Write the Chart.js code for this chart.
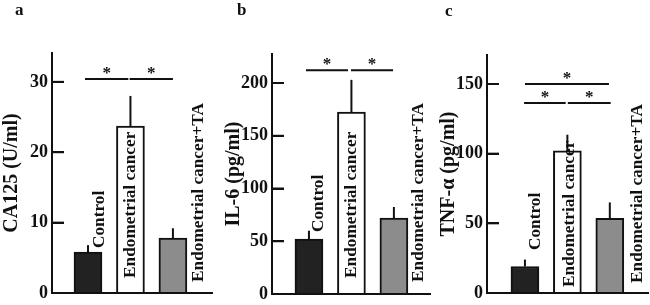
<!DOCTYPE html>
<html>
<head>
<meta charset="utf-8">
<script src="https://cdn.jsdelivr.net/npm/chart.js@4.4.1/dist/chart.umd.min.js"></script>
<style>
  html, body { margin: 0; padding: 0; background: #fff; }
  #wrap { position: relative; width: 650px; height: 305px; overflow: hidden; }
  canvas { position: absolute; top: 0; }
</style>
</head>
<body>
<div id="wrap">
  <canvas id="chartA" width="215" height="305" style="left:0px"></canvas>
  <canvas id="chartB" width="220" height="305" style="left:215px"></canvas>
  <canvas id="chartC" width="214" height="305" style="left:436px"></canvas>
</div>
<script>
// Datos
const categories = ['Control', 'Endometrial cancer', 'Endometrial cancer+TA'];

const ca125Means = [5.8, 23.7, 7.8];
const ca125Errors = [1.0, 4.3, 1.4];
const ca125Ticks = [0, 10, 20, 30];
const ca125Sig = [[0.93, 1.95, 30.4], [1.98, 3.0, 30.4]];

const il6Means = [52, 172.5, 72];
const il6Errors = [8, 30.5, 10.5];
const il6Ticks = [0, 50, 100, 150, 200];
const il6Sig = [[0.93, 1.92, 212], [1.99, 2.98, 212]];

const tnfMeans = [19, 102, 53.6];
const tnfErrors = [5, 11.6, 11.4];
const tnfTicks = [0, 50, 100, 150];
const tnfSig = [[1.0, 2.98, 150], [0.98, 1.96, 136.4], [2.01, 3.02, 136.4]];

const barFills = ['#222222', '#ffffff', '#8c8c8c'];
const FONT = "'Liberation Serif', 'Times New Roman', serif";

Chart.defaults.font.family = FONT;
Chart.defaults.font.weight = 'bold';
Chart.defaults.color = '#111';

// Barras de error, llaves de significancia, etiquetas giradas y letra del panel
const panelExtras = {
    id: 'panelExtras',
    afterDatasetsDraw(chart, args, opts) {
        const ctx = chart.ctx;
        const x = chart.scales.x;
        const y = chart.scales.y;
        const meta = chart.getDatasetMeta(0);

        ctx.save();
        ctx.strokeStyle = '#111';
        ctx.lineWidth = 2;

        // error bars
        meta.data.forEach((bar, i) => {
            const top = y.getPixelForValue(opts.means[i] + opts.errors[i]);
            ctx.beginPath();
            ctx.moveTo(bar.x, bar.y);
            ctx.lineTo(bar.x, top);
            ctx.stroke();
        });

        // inner tick marks on the y axis
        y.ticks.forEach(t => {
            const py = y.getPixelForValue(t.value);
            ctx.beginPath();
            ctx.moveTo(chart.chartArea.left, py);
            ctx.lineTo(chart.chartArea.left + 12, py);
            ctx.stroke();
        });

        // significance lines + stars
        ctx.fillStyle = '#111';
        ctx.font = 'bold 17px ' + FONT;
        ctx.textAlign = 'center';
        ctx.textBaseline = 'alphabetic';
        opts.sig.forEach(s => {
            const x1 = x.getPixelForValue(s[0]);
            const x2 = x.getPixelForValue(s[1]);
            const yy = y.getPixelForValue(s[2]);
            ctx.beginPath();
            ctx.moveTo(x1, yy);
            ctx.lineTo(x2, yy);
            ctx.stroke();
            ctx.fillText('*', (x1 + x2) / 2, yy - 1);
        });

        // rotated category labels
        ctx.font = 'bold 17.3px ' + FONT;
        ctx.textAlign = 'left';
        ctx.textBaseline = 'middle';
        meta.data.forEach((bar, i) => {
            const pos = opts.labelPos[i];
            ctx.save();
            ctx.translate(bar.x + pos[0], pos[1]);
            ctx.rotate(-Math.PI / 2);
            ctx.fillText(categories[i], 0, 0);
            ctx.restore();
        });

        // panel letter
        ctx.font = 'bold 17px ' + FONT;
        ctx.textAlign = 'left';
        ctx.textBaseline = 'alphabetic';
        ctx.fillText(opts.letter, opts.letterPos[0], opts.letterPos[1]);

        ctx.restore();
    }
};

function makePanel(id, p) {
    const canvas = document.getElementById(id);
    return new Chart(canvas, {
        type: 'bar',
        data: {
            datasets: [{
                data: p.means.map((v, i) => ({ x: i + 1, y: v })),
                backgroundColor: barFills,
                borderColor: '#111',
                borderWidth: 2,
                barThickness: 28
            }]
        },
        options: {
            responsive: false,
            animation: false,
            devicePixelRatio: 1,
            layout: { padding: p.padding },
            plugins: {
                legend: { display: false },
                tooltip: { enabled: false },
                panelExtras: {
                    means: p.means,
                    errors: p.errors,
                    sig: p.sig,
                    labelPos: p.labelPos,
                    letter: p.letter,
                    letterPos: p.letterPos
                }
            },
            scales: {
                x: {
                    type: 'linear',
                    offset: false,
                    min: p.xMin,
                    max: p.xMax,
                    grid: { display: false },
                    ticks: { display: false },
                    border: { display: true, color: '#111', width: 2 },
                    afterFit: s => { s.height = 0; s.paddingLeft = 0; s.paddingRight = 0; }
                },
                y: {
                    min: 0,
                    max: p.yMax,
                    afterBuildTicks: s => { s.ticks = p.ticks.map(v => ({ value: v })); },
                    grid: {
                        display: true,
                        drawOnChartArea: false,
                        drawTicks: true,
                        tickLength: -12,
                        color: '#111',
                        lineWidth: 2
                    },
                    border: { display: true, color: '#111', width: 2 },
                    ticks: {
                        padding: 16,
                        color: '#111',
                        font: { size: 18, weight: 'bold', family: FONT }
                    },
                    title: {
                        display: true,
                        text: p.title,
                        color: '#111',
                        padding: { top: p.titlePad, bottom: 0 },
                        font: { size: 20, weight: 'bold', family: FONT }
                    },
                    afterFit: s => { s.width = p.axisLeft; s.paddingTop = 0; s.paddingBottom = 0; }
                }
            }
        },
        plugins: [panelExtras]
    });
}

makePanel('chartA', {
    means: ca125Means, errors: ca125Errors, ticks: ca125Ticks, sig: ca125Sig,
    title: 'CA125 (U/ml)', titlePad: 0,
    yMax: 34.1, xMin: 0.153, xMax: 3.92,
    axisLeft: 52, padding: { left: 0, top: 53, right: 3, bottom: 12 },
    labelPos: [[11.5, 248], [0, 278], [25.5, 282]],
    letter: 'a', letterPos: [15, 15]
});

makePanel('chartB', {
    means: il6Means, errors: il6Errors, ticks: il6Ticks, sig: il6Sig,
    title: 'IL-6 (pg/ml)', titlePad: 6.5,
    yMax: 227.5, xMin: 0.13, xMax: 3.85,
    axisLeft: 57, padding: { left: 0, top: 54, right: 5, bottom: 11 },
    labelPos: [[10, 232], [0, 278], [25, 282]],
    letter: 'b', letterPos: [22, 15]
});

makePanel('chartC', {
    means: tnfMeans, errors: tnfErrors, ticks: tnfTicks, sig: tnfSig,
    title: 'TNF-\u03b1 (pg/ml)', titlePad: 0.5,
    yMax: 170.8, xMin: 0.106, xMax: 3.9,
    axisLeft: 51, padding: { left: 0, top: 55, right: 2, bottom: 12 },
    labelPos: [[11, 250], [2, 287], [27.5, 283]],
    letter: 'c', letterPos: [9, 16]
});
</script>
</body>
</html>
